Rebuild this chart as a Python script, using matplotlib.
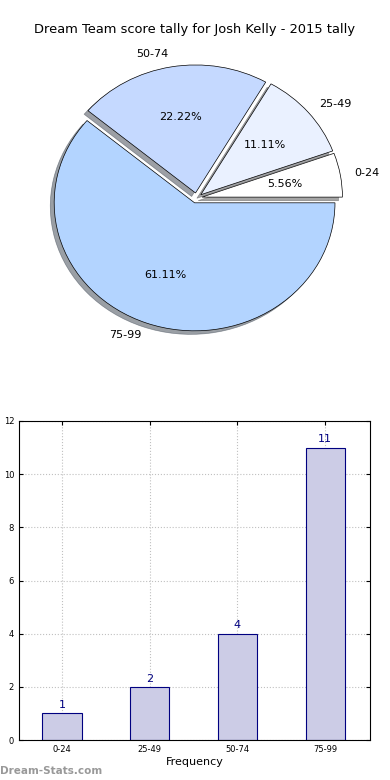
import numpy as np
import matplotlib
matplotlib.use('Agg')
import matplotlib.pyplot as plt

# score bands and how many games fell into each
bands = ['0-24', '25-49', '50-74', '75-99']
counts = [1, 2, 4, 11]
pie_colors = ['#ffffff', '#eaf1ff', '#c5d9ff', '#b3d4ff']
title = 'Dream Team score tally for Josh Kelly - 2015 tally'

fig = plt.figure(figsize=(3.9, 7.8), dpi=100)
W, H = 390., 780.

# pie on top (old style: not forced round)
ax_pie = fig.add_axes([21/W, 1-358/H, 351/W, 320/H])
wedges, texts, autotexts = ax_pie.pie(counts, labels=bands, colors=pie_colors,
                                      explode=[0.04]*4, autopct='%1.2f%%',
                                      shadow=True, startangle=0,
                                      wedgeprops={'edgecolor': 'black', 'linewidth': 0.5},
                                      textprops={'fontsize': 8})
ax_pie.set_aspect('auto')
ax_pie.set_xlim(-1.25, 1.25)
ax_pie.set_ylim(-1.25, 1.25)
fig.text(0.5, 1-30/H, title, ha='center', va='center', fontsize=9.4)

# bar chart below
ax_bar = fig.add_axes([19/W, 1-740/H, 351/W, 319/H])
x = np.arange(len(bands))
bars = ax_bar.bar(x, counts, width=0.45, color='#ccccE6', edgecolor='navy',
                  linewidth=0.8, zorder=2)
for xi, c in zip(x, counts):
    ax_bar.text(xi, c + 0.12, str(c), ha='center', va='bottom',
                fontsize=8, color='navy')
ax_bar.set_xlim(-0.49, 3.51)
ax_bar.set_ylim(0, 12)
ax_bar.set_yticks(range(0, 13, 2))
ax_bar.set_xticks(x)
ax_bar.set_xticklabels(bands)
ax_bar.tick_params(labelsize=6, direction='in', top=True, right=True, length=3)
ax_bar.grid(True, linestyle=':', color='#c0c0c0', linewidth=0.8, zorder=0)
ax_bar.set_xlabel('Frequency', fontsize=8, labelpad=2)
ax_bar.set_ylabel('Score Tally', fontsize=7, labelpad=6)

fig.text(0, 1-771/H, 'Dream-Stats.com', ha='left', va='center',
         fontsize=7.5, color='#999999', fontweight='bold')

fig.savefig('out.png', dpi=100)
